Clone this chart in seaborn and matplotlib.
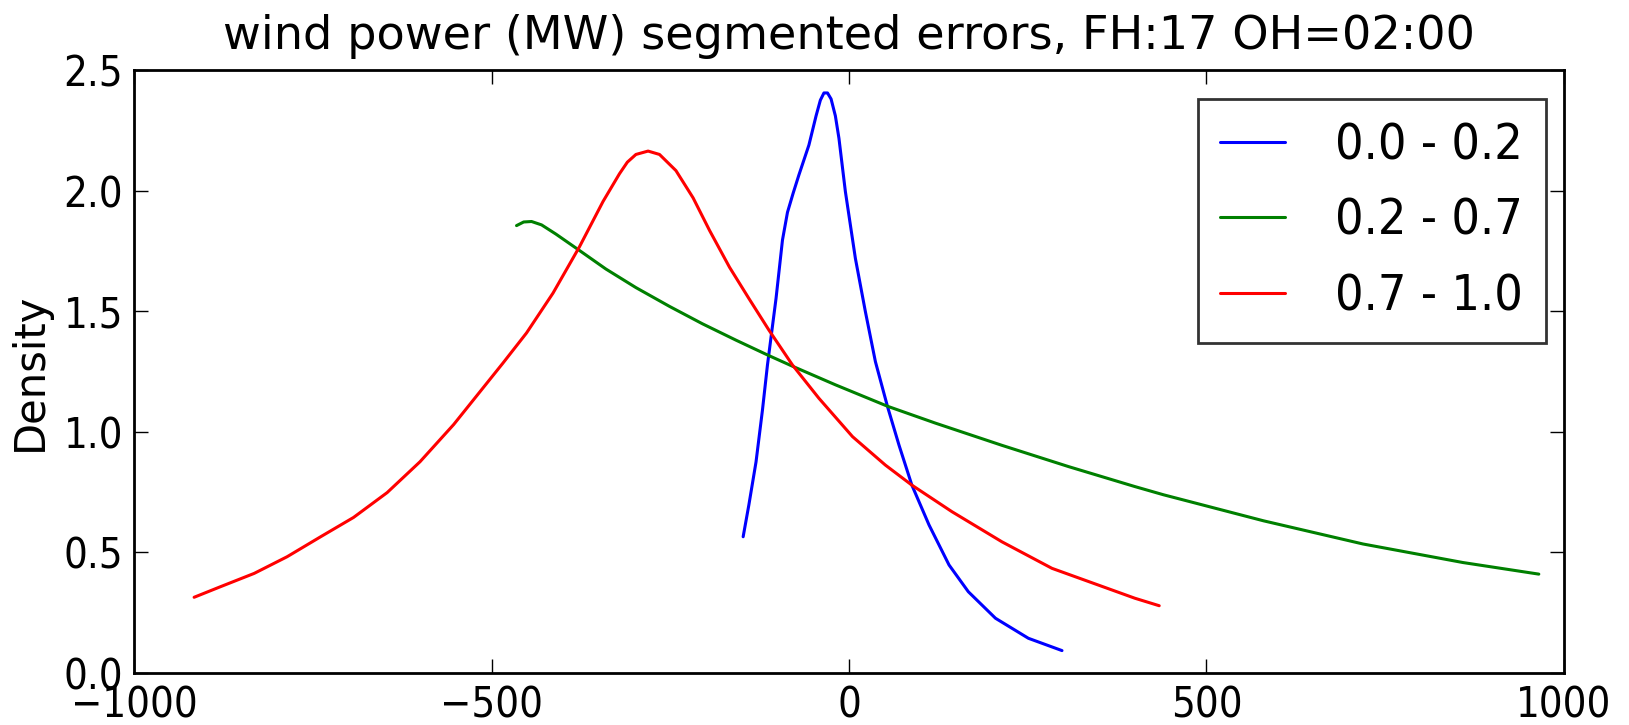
import numpy as np
import pandas as pd
import matplotlib
matplotlib.use("Agg")
import matplotlib.pyplot as plt
import seaborn as sns

# ---- data ----
title = "wind power (MW) segmented errors, FH:17 OH=02:00"
segments = ["0.0 - 0.2", "0.2 - 0.7", "0.7 - 1.0"]
colors = ["#0000ff", "#008000", "#ff0000"]

blue_x = [-148, -140, -130, -121, -114, -102, -93, -86, -78, -70, -56, -46, -40, -35, -30, -25,
          -19, -14, -5, 9, 23, 37, 54, 70, 88, 112, 140, 167, 205, 251, 298]
blue_y = [0.565, 0.697, 0.875, 1.09, 1.277, 1.553, 1.795, 1.91, 1.99, 2.065, 2.189, 2.31, 2.375, 2.405, 2.405, 2.38,
          2.31, 2.217, 1.996, 1.719, 1.498, 1.291, 1.104, 0.945, 0.779, 0.614, 0.448, 0.337, 0.227, 0.144, 0.093]

green_x = [-465, -455, -444, -430, -410, -377, -340, -298, -251, -205, -158, -112, -79, -19,
           54, 121, 214, 307, 400, 440, 580, 719, 859, 965]
green_y = [1.855, 1.870, 1.872, 1.858, 1.82, 1.752, 1.675, 1.598, 1.52, 1.448, 1.38, 1.316, 1.272, 1.195,
           1.106, 1.036, 0.944, 0.856, 0.773, 0.739, 0.631, 0.535, 0.458, 0.41]

red_x = [-916, -879, -832, -786, -739, -693, -646, -600, -553, -507, -484, -451, -414, -377, -344,
         -321, -310, -298, -281, -265, -242, -218, -195, -167, -140, -112, -79, -42, 5, 51, 88, 144, 214,
         284, 400, 434]
red_y = [0.314, 0.358, 0.413, 0.482, 0.565, 0.645, 0.748, 0.876, 1.03, 1.20, 1.285, 1.41, 1.575,
         1.767, 1.955, 2.070, 2.118, 2.150, 2.164, 2.150, 2.083, 1.970, 1.835, 1.682, 1.553, 1.422, 1.277,
         1.139, 0.98, 0.862, 0.779, 0.669, 0.544, 0.434, 0.31, 0.279]

x_ticks = [-1000, -500, 0, 500, 1000]
y_ticks = [0.0, 0.5, 1.0, 1.5, 2.0, 2.5]

df = pd.concat([
    pd.DataFrame({"error": blue_x, "density": blue_y, "segment": segments[0]}),
    pd.DataFrame({"error": green_x, "density": green_y, "segment": segments[1]}),
    pd.DataFrame({"error": red_x, "density": red_y, "segment": segments[2]}),
], ignore_index=True)

sns.set_style("white")
plt.rcParams["font.family"] = ["DejaVu Sans"]
plt.rcParams["axes.unicode_minus"] = True
plt.rcParams["text.color"] = "black"
plt.rcParams["axes.labelcolor"] = "black"
plt.rcParams["xtick.color"] = "black"
plt.rcParams["ytick.color"] = "black"

fig = plt.figure(figsize=(16.29, 7.25), dpi=100)
ax = fig.add_axes([0.0823, 0.0717, 0.960 - 0.0823, 0.9034 - 0.0717])

sns.lineplot(data=df, x="error", y="density", hue="segment", hue_order=segments,
             palette=dict(zip(segments, colors)), estimator=None, sort=False,
             linewidth=2.2, ax=ax)

ax.set_xlim(-1000, 1000)
ax.set_ylim(0, 2.5)
ax.set_xticks(x_ticks)
ax.set_yticks(y_ticks)
ax.set_xlabel("")
ax.set_ylabel("Density", fontsize=30, labelpad=9, color="black")
ax.set_title(title, fontsize=33.3, pad=15, color="black")
ax.tick_params(direction="in", length=10, width=1, labelsize=30,
               top=True, right=True, bottom=True, left=True, color="black",
               labelcolor="black")
ax.tick_params(axis="y", pad=8)
ax.tick_params(axis="x", pad=8)
for lab in ax.get_xticklabels() + ax.get_yticklabels():
    lab.set_fontstretch("condensed")
for s in ax.spines.values():
    s.set_color("black")
    s.set_linewidth(2)

handles, labels = ax.get_legend_handles_labels()
leg = ax.legend(handles, labels, loc="upper right", bbox_to_anchor=(0.9874, 0.952),
                fontsize=36, frameon=True, fancybox=False, handlelength=1.3,
                handletextpad=1.0, borderaxespad=0.0, labelspacing=0.55, borderpad=0.45)
leg.get_frame().set_edgecolor("black")
leg.get_frame().set_linewidth(2)
for t in leg.get_texts():
    t.set_fontstretch("condensed")
    t.set_color("black")
for line in leg.get_lines():
    line.set_linewidth(2.2)

fig.savefig("out.png", dpi=100)
